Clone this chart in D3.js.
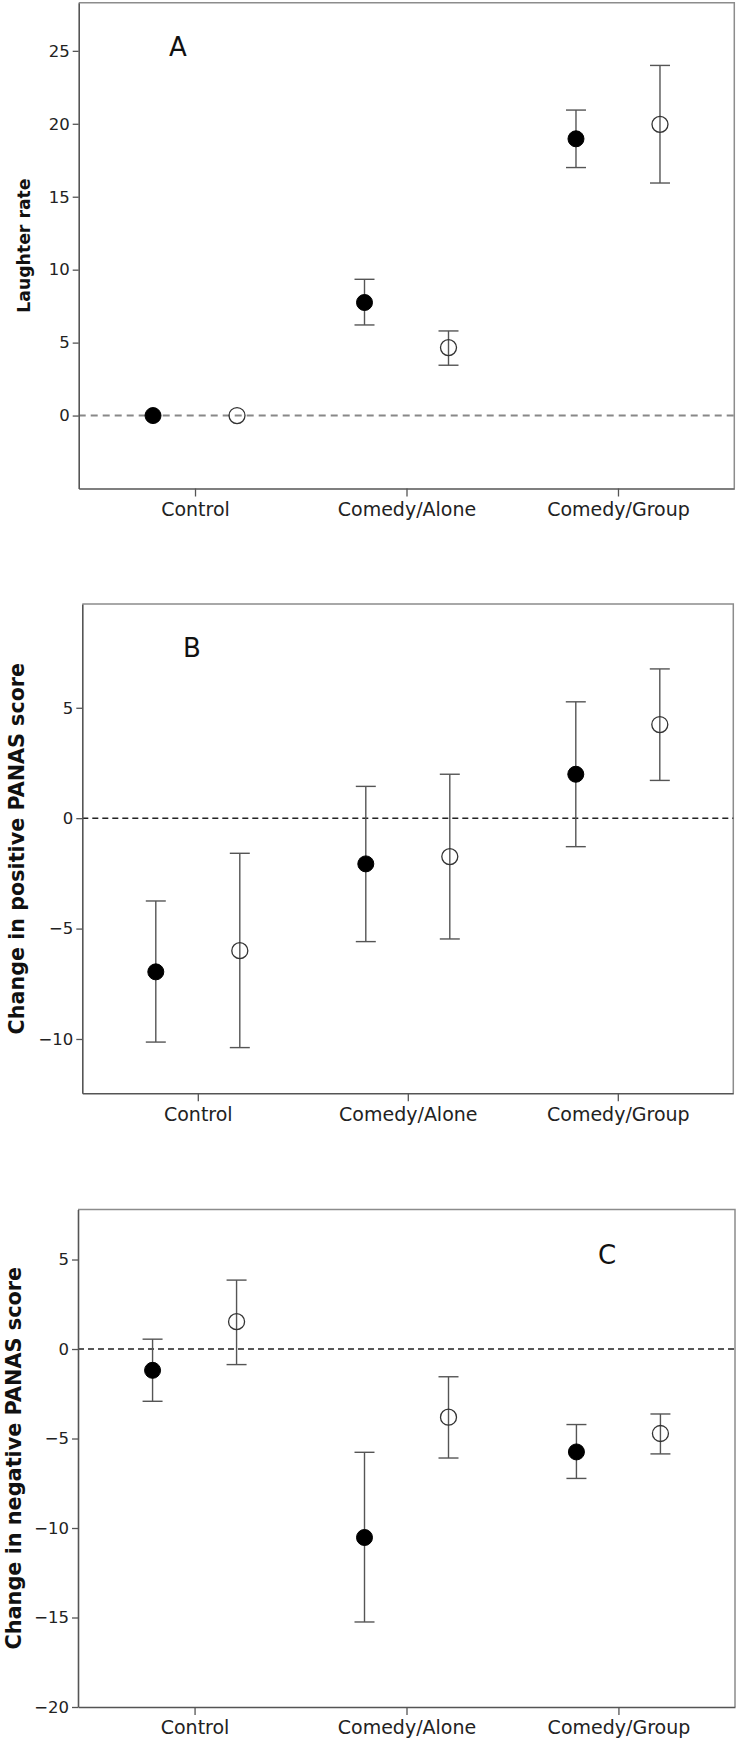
<!DOCTYPE html>
<html>
<head>
<meta charset="utf-8">
<script src="https://cdn.jsdelivr.net/npm/d3@7"></script>
<style>
  html, body { margin: 0; padding: 0; background: #fff; }
  svg { display: block; font-family: "DejaVu Sans", sans-serif; }
</style>
</head>
<body>
<script>
// ---------- data ----------
const categories = ["Control", "Comedy/Alone", "Comedy/Group"];
const seriesKeys = ["filled", "open"];

// Panel A: Laughter rate
const aFilledMean = [0, 7.75, 18.97];
const aFilledLow  = [0, 6.21, 17.0];
const aFilledHigh = [0, 9.34, 20.94];
const aOpenMean   = [0, 4.66, 19.96];
const aOpenLow    = [0, 3.45, 15.94];
const aOpenHigh   = [0, 5.8, 24.0];
const aTicks = [0, 5, 10, 15, 20, 25];

// Panel B: Change in positive PANAS score
const bFilledMean = [-6.96, -2.07, 1.99];
const bFilledLow  = [-10.14, -5.59, -1.29];
const bFilledHigh = [-3.75, 1.44, 5.27];
const bOpenMean   = [-6.0, -1.74, 4.24];
const bOpenLow    = [-10.39, -5.47, 1.71];
const bOpenHigh   = [-1.59, 1.99, 6.76];
const bTicks = [-10, -5, 0, 5];

// Panel C: Change in negative PANAS score
const cFilledMean = [-1.19, -10.53, -5.75];
const cFilledLow  = [-2.92, -15.25, -7.23];
const cFilledHigh = [0.55, -5.77, -4.22];
const cOpenMean   = [1.53, -3.81, -4.72];
const cOpenLow    = [-0.87, -6.09, -5.86];
const cOpenHigh   = [3.85, -1.55, -3.63];
const cTicks = [-20, -15, -10, -5, 0, 5];

// ---------- drawing ----------
const svg = d3.select("body").append("svg")
  .attr("width", 740).attr("height", 1740);

function makeSeries(fm, fl, fh, om, ol, oh) {
  return [
    { key: "filled", mean: fm, low: fl, high: fh },
    { key: "open", mean: om, low: ol, high: oh }
  ];
}

const fmt = d => d < 0 ? "\u2212" + Math.abs(d) : String(d);

function drawPanel(p) {
  const x = d3.scalePoint().domain(categories).range([p.left, p.right]).padding(0.55);
  const off = d3.scalePoint().domain(seriesKeys).range([-42, 42]);
  const y = d3.scaleLinear().domain(p.domain).range([p.bottom, p.top]);
  const g = svg.append("g");

  // frame (top & right)
  g.append("path")
    .attr("d", `M${p.left},${p.top}H${p.right}V${p.bottom}`)
    .attr("fill", "none").attr("stroke", "#8c8c8c").attr("stroke-width", 1.5);

  // zero reference line
  g.append("line")
    .attr("x1", p.left).attr("x2", p.right)
    .attr("y1", y(0)).attr("y2", y(0))
    .attr("stroke", p.zeroColor).attr("stroke-width", p.zeroWidth)
    .attr("stroke-dasharray", p.zeroDash);

  // y axis
  const ya = g.append("g").attr("transform", `translate(${p.left},0)`)
    .call(d3.axisLeft(y).tickValues(p.ticks).tickFormat(fmt)
      .tickSize(6).tickSizeOuter(0).tickPadding(3));
  ya.select(".domain").attr("stroke", "#555").attr("stroke-width", 1.6);
  ya.selectAll(".tick line").attr("stroke", "#555").attr("stroke-width", 1.3);
  ya.selectAll(".tick text").attr("font-size", p.yTickSize).attr("fill", "#222")
    .attr("font-family", "DejaVu Sans, sans-serif");

  // x axis
  const xa = g.append("g").attr("transform", `translate(0,${p.bottom})`)
    .call(d3.axisBottom(x).tickSize(8).tickSizeOuter(0).tickPadding(6));
  xa.select(".domain").attr("stroke", "#555").attr("stroke-width", 1.6);
  xa.selectAll(".tick line").attr("stroke", "#555").attr("stroke-width", 1.3);
  xa.selectAll(".tick text").attr("font-size", 19).attr("fill", "#222")
    .attr("font-family", "DejaVu Sans, sans-serif");

  // y axis title
  g.append("text")
    .attr("transform", `translate(${p.titleX},${(p.top + p.bottom) / 2}) rotate(-90)`)
    .attr("text-anchor", "middle").attr("dy", "0.35em")
    .attr("font-size", p.titleSize).attr("font-weight", "bold").attr("fill", "#111")
    .text(p.title);

  // panel letter
  g.append("text")
    .attr("x", p.letterX).attr("y", p.letterY)
    .attr("text-anchor", "middle")
    .attr("font-size", 26).attr("fill", "#111")
    .text(p.letter);

  // error bars + points
  p.series.forEach(s => {
    const sg = g.append("g");
    categories.forEach((c, i) => {
      const cx = x(c) + off(s.key);
      const lo = y(s.low[i]), hi = y(s.high[i]);
      if (Math.abs(lo - hi) > 0.5) {
        sg.append("line").attr("x1", cx).attr("x2", cx).attr("y1", lo).attr("y2", hi)
          .attr("stroke", "#555").attr("stroke-width", 1.4);
        [lo, hi].forEach(yy => sg.append("line")
          .attr("x1", cx - 10).attr("x2", cx + 10).attr("y1", yy).attr("y2", yy)
          .attr("stroke", "#555").attr("stroke-width", 1.4));
      }
      sg.append("circle").attr("cx", cx).attr("cy", y(s.mean[i])).attr("r", 8)
        .attr("fill", s.key === "filled" ? "#000" : "none")
        .attr("stroke", s.key === "filled" ? "#000" : "#333")
        .attr("stroke-width", s.key === "filled" ? 1 : 1.3);
    });
  });
}

drawPanel({
  left: 78.7, right: 734.3, top: 2.7, bottom: 488.5,
  domain: [-5, 28.3], ticks: aTicks, yTickSize: 16.5,
  title: "Laughter rate", titleX: 24, titleSize: 17.3,
  letter: "A", letterX: 178, letterY: 56,
  zeroColor: "#888", zeroWidth: 2, zeroDash: "7,5",
  series: makeSeries(aFilledMean, aFilledLow, aFilledHigh, aOpenMean, aOpenLow, aOpenHigh)
});

drawPanel({
  left: 82.3, right: 733.3, top: 604, bottom: 1093.3,
  domain: [-12.46, 9.7], ticks: bTicks, yTickSize: 16.5,
  title: "Change in positive PANAS score", titleX: 17, titleSize: 20.7,
  letter: "B", letterX: 192, letterY: 657,
  zeroColor: "#222", zeroWidth: 1.5, zeroDash: "6,4",
  series: makeSeries(bFilledMean, bFilledLow, bFilledHigh, bOpenMean, bOpenLow, bOpenHigh)
});

drawPanel({
  left: 78, right: 735, top: 1209.4, bottom: 1707,
  domain: [-20, 7.8], ticks: cTicks, yTickSize: 16.5,
  title: "Change in negative PANAS score", titleX: 14, titleSize: 20.8,
  letter: "C", letterX: 607, letterY: 1264,
  zeroColor: "#222", zeroWidth: 1.5, zeroDash: "6,4",
  series: makeSeries(cFilledMean, cFilledLow, cFilledHigh, cOpenMean, cOpenLow, cOpenHigh)
});
</script>
</body>
</html>
